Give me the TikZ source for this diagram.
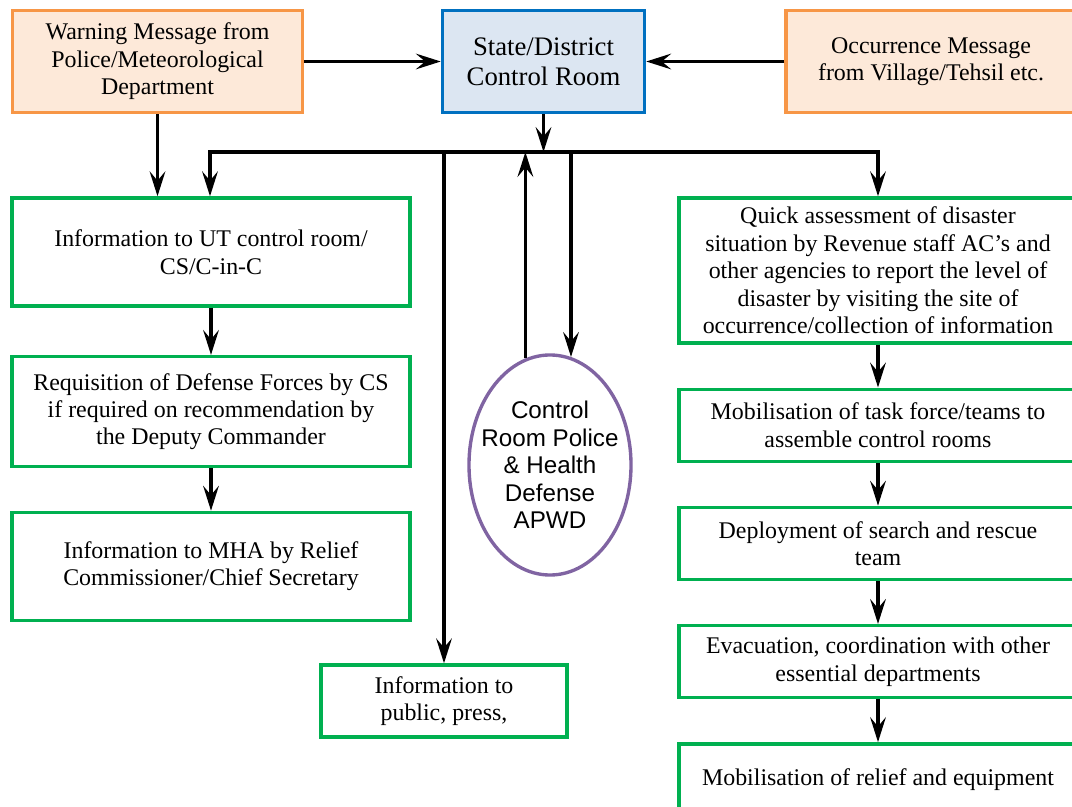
\documentclass[tikz,border=0pt]{standalone}
\usepackage{fontspec}
\setmainfont{Liberation Serif}
\newfontfamily\ellfont{Liberation Sans}
\usetikzlibrary{arrows.meta,positioning,shapes.geometric}
\definecolor{msgorange}{RGB}{247,150,70}
\definecolor{msgfill}{RGB}{253,233,217}
\definecolor{ctrlblue}{RGB}{0,112,192}
\definecolor{ctrlfill}{RGB}{220,230,242}
\definecolor{taskgreen}{RGB}{0,176,80}
\definecolor{policepurple}{RGB}{128,100,162}

\begin{document}
\begin{tikzpicture}[x=0.025cm,y=-0.025cm,
  font=\fontsize{17}{19.5}\selectfont,
  msgbox/.style={draw=msgorange,fill=msgfill,line width=2.4pt,
                 minimum width=7.25cm,minimum height=2.55cm,align=center},
  ctrlbox/.style={msgbox,draw=ctrlblue,fill=ctrlfill,minimum width=5.05cm,
                  font=\fontsize{19}{21.3}\selectfont},
  infobox/.style={draw=taskgreen,line width=2.4pt,
                  minimum width=9.95cm,minimum height=2.7cm,align=center},
  taskbox/.style={infobox,minimum height=1.8cm},
  unitell/.style={ellipse,draw=policepurple,line width=2.4pt,inner sep=0pt,
                  minimum width=4.05cm,minimum height=5.5cm},
  elltext/.style={align=center,font=\ellfont\fontsize{17.2}{19.5}\selectfont},
  tip/.tip={Stealth[length=6.2mm,width=3.9mm,inset=2.3mm]},
  arrow/.style={-tip,line width=2.6pt},
  biarrow/.style={tip-tip,line width=2.6pt},
  node distance=1.07cm
]
\useasboundingbox (0,0) rectangle (1072,807);
\clip (0,0) rectangle (1072,807);

\node[msgbox] (warn) at (157.5,61.5) {Warning Message from\\Police/Meteorological\\Department};
\node[ctrlbox] (ctrl) at (543.5,61.5) {State/District\\Control Room};
\node[msgbox] (occ) at (931,61.5) {Occurrence Message\\from Village/Tehsil etc.};

\node[infobox] (ut) at (211,252) {Information to UT control room/\\CS/C-in-C};
\node[infobox,minimum height=2.75cm,below=1.18cm of ut] (req) {Requisition of Defense Forces by CS\\if required on recommendation by\\the Deputy Commander};
\node[infobox,below=1.06cm of req] (mha) {Information to MHA by Relief\\Commissioner/Chief Secretary};
\node[taskbox,minimum width=6.15cm] (public) at (444,701) {Information to\\public, press,};

\node[infobox,minimum height=3.625cm] (quick) at (878,270.5) {Quick assessment of disaster\\situation by Revenue staff AC's and\\other agencies to report the level of\\disaster by visiting the site of\\occurrence/collection of information};
\node[taskbox,below=of quick] (task) {Mobilisation of task force/teams to\\assemble control rooms};
\node[taskbox,below=of task] (deploy) {Deployment of search and rescue\\team};
\node[taskbox,below=of deploy] (evac) {Evacuation, coordination with other\\essential departments};
\node[taskbox,below=of evac] (relief) {Mobilisation of relief and equipment};

\node[unitell] (police) at (550,465) {};
\node[elltext] (policetext) at (police) {Control\\Room Police\\\& Health\\Defense\\APWD};

\coordinate (bus) at (543.5,152);
\coordinate (busL) at (210,152);

\draw[arrow] (warn) -- (ctrl);
\draw[arrow] (occ) -- (ctrl);
\draw[arrow] (ctrl.south) -- (bus);
\draw[arrow] (warn.south) -- (warn.south |- ut.north);
\draw[biarrow] (busL |- ut.north) -- (busL) -| (quick.north);
\draw[arrow] (public.north |- bus) -- (public.north);
\draw[arrow] (police.103) -- (police.103 |- bus);
\draw[arrow] (police.79 |- bus) -- (police.79);
\draw[arrow] (ut) -- (req);
\draw[arrow] (req) -- (mha);
\draw[arrow] (quick) -- (task);
\draw[arrow] (task) -- (deploy);
\draw[arrow] (deploy) -- (evac);
\draw[arrow] (evac) -- (relief);
\end{tikzpicture}
\end{document}
